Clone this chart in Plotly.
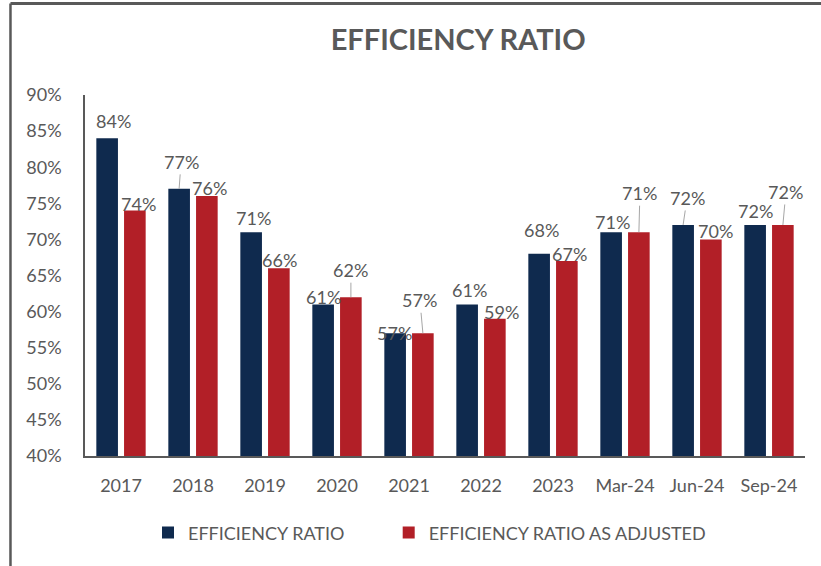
import plotly.graph_objects as go

categories = ["2017", "2018", "2019", "2020", "2021", "2022", "2023", "Mar-24", "Jun-24", "Sep-24"]
efficiency_ratio = [84, 77, 71, 61, 57, 61, 68, 71, 72, 72]
efficiency_ratio_adjusted = [74, 76, 66, 62, 57, 59, 67, 71, 70, 72]
series_names = ["EFFICIENCY RATIO", "EFFICIENCY RATIO AS ADJUSTED"]
y_ticks = [40, 45, 50, 55, 60, 65, 70, 75, 80, 85, 90]

# label offsets (px) from bar top-centre: (dx, dy up, leader line)
navy_label_style = [(6, 17, False), (2, 27, True), (2, 14, False), (0, 7, False), (-1, 0, False),
                    (2, 14, False), (2, 24, False), (1, 10, False), (4, 27, True), (0, 14, False)]
red_label_style = [(4, 7, False), (3, 8, False), (1, 8, False), (0, 27, True), (-3, 33, True),
                   (7, 7, False), (3, 7, False), (1, 39, True), (5, 8, False), (3, 33, True)]

NAVY = "#0f2a4e"
RED = "#b21f27"
GREY = "#595959"
FONT = "Lato"

fig = go.Figure()
fig.add_trace(go.Bar(x=categories, y=efficiency_ratio, name=series_names[0], legend="legend",
                     showlegend=True, marker=dict(color=NAVY, line=dict(width=0))))
fig.add_trace(go.Bar(x=categories, y=efficiency_ratio_adjusted, name=series_names[1], legend="legend2",
                     showlegend=True, marker=dict(color=RED, line=dict(width=0))))

BAR_OFF = 13.9
annotations = []
for vals, styles, shift in ((efficiency_ratio, navy_label_style, -BAR_OFF),
                            (efficiency_ratio_adjusted, red_label_style, BAR_OFF)):
    for i, (v, (dx, dy, leader)) in enumerate(zip(vals, styles)):
        annotations.append(dict(
            x=i, y=v, xref="x", yref="y", text=f"{v}%",
            showarrow=True, arrowhead=0, arrowwidth=1, standoff=0,
            arrowcolor="#a6a6a6" if leader else "rgba(0,0,0,0)",
            ax=dx, ay=-dy, axref="pixel", ayref="pixel", xshift=shift,
            font=dict(family=FONT, size=18, color=GREY),
        ))

legend_common = dict(orientation="h", xanchor="left", y=-0.213, yanchor="middle",
                     font=dict(family=FONT, size=18, color=GREY), bgcolor="rgba(0,0,0,0)")

fig.update_layout(
    width=821, height=566,
    margin=dict(l=85, r=16, t=95, b=110),
    paper_bgcolor="white", plot_bgcolor="white",
    barmode="group", bargap=0.23, bargroupgap=0.22,
    showlegend=True,
    title=dict(text="<b>EFFICIENCY RATIO</b>", x=0.558, xanchor="center", y=0.929, yanchor="middle",
               font=dict(family=FONT, size=29, color=GREY)),
    font=dict(family=FONT, color=GREY),
    xaxis=dict(type="category", categoryorder="array", categoryarray=categories,
               range=[-0.5, len(categories) - 0.5], autorange=False,
               showline=True, linecolor=GREY, linewidth=2, showgrid=False, ticks="",
               tickfont=dict(family=FONT, size=18, color=GREY), ticklabelstandoff=12,
               automargin=False),
    yaxis=dict(range=[40, 90], autorange=False, tickvals=y_ticks, ticktext=[f"{t}%" for t in y_ticks],
               showline=True, linecolor=GREY, linewidth=1.5, showgrid=False, ticks="",
               zeroline=False, tickfont=dict(family=FONT, size=18, color=GREY), ticklabelstandoff=18,
               automargin=False),
    legend=dict(x=0.0875, visible=True, **legend_common),
    legend2=dict(x=0.4218, visible=True, **legend_common),
    annotations=annotations,
    shapes=[
        dict(type="line", xref="paper", yref="paper", x0=-0.1035, x1=1.03, y0=1.2535, y1=1.2535,
             line=dict(color=GREY, width=3)),
        dict(type="line", xref="paper", yref="paper", x0=-0.1035, x1=-0.1035, y0=1.2535, y1=-0.31,
             line=dict(color=GREY, width=2.5)),
    ],
)

fig.write_html("out.html", config={"displayModeBar": False},
               post_script="document.body.style.margin='0';")
